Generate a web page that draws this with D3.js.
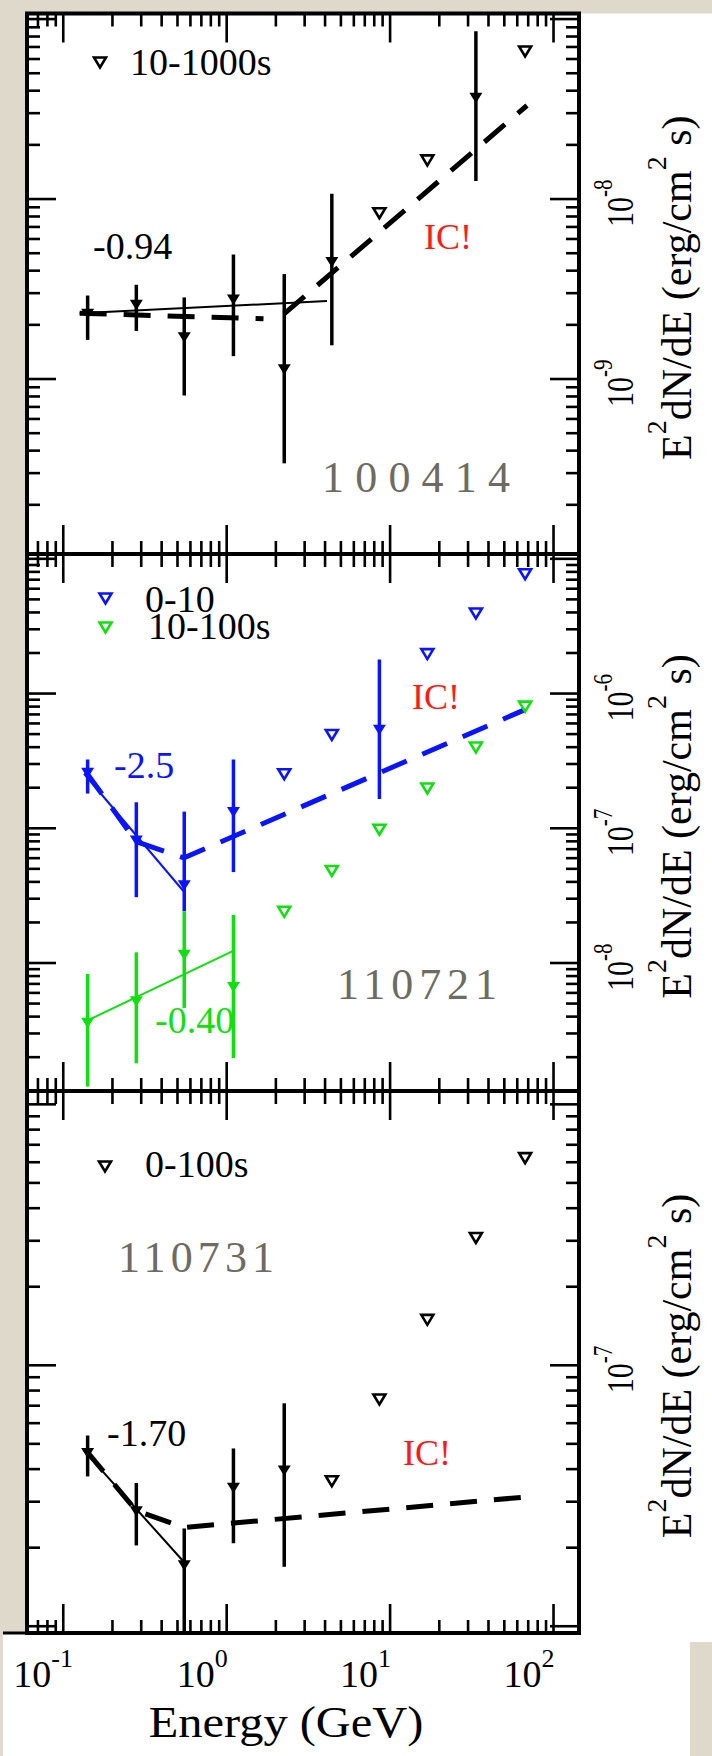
<!DOCTYPE html>
<html><head><meta charset="utf-8">
<script src="https://cdn.jsdelivr.net/npm/d3@7"></script>
<style>html,body{margin:0;padding:0;background:#dfd9cb;}svg{display:block}</style>
</head><body>
<svg id="chart" width="712" height="1756"></svg>
<script>
// ---------------- DATA ----------------
const energyGeV = [0.141, 0.28, 0.55, 1.1, 2.25, 4.4, 8.6, 16.9, 33.5, 67];
const xTickValues = [0.1, 1, 10, 100];
const xTickExponents = ["-1", "0", "1", "2"];
const burstNames = ["100414", "110721", "110731"];
const indexLabels = ["-0.94", "-2.5", "-0.40", "-1.70"];
const legendLabels = ["10-1000s", "0-10", "10-100s", "0-100s"];
const icLabel = "IC!";

// Panel 1 : GRB 100414 (10-1000 s)
const p1YDomain = [1.066e-10, 1.074e-7];
const p1YTicks = [1e-9, 1e-8];
const p1YExp = ["-9", "-8"];
const p1DetIdx = [0, 1, 2, 3, 4, 5, 8];
const p1Flux   = [2.32e-9, 2.60e-9, 1.72e-9, 2.78e-9, 1.14e-9, 4.5e-9, 3.68e-8];
const p1FluxHi = [2.91e-9, 3.34e-9, 2.84e-9, 4.92e-9, 3.83e-9, 1.07e-8, 8.57e-8];
const p1FluxLo = [1.65e-9, 1.85e-9, 8.1e-10, 1.34e-9, 3.4e-10, 1.54e-9, 1.26e-8];
const p1UlIdx = [6, 7, 9];
const p1Ul = [8.4e-9, 1.65e-8, 6.65e-8];
const p1FitE = [0.126, 4.11],  p1FitF = [2.32e-9, 2.71e-9];
const p1ModAE = [0.126, 1.68], p1ModAF = [2.32e-9, 2.16e-9];
const p1ModBE = [2.245, 68.8], p1ModBF = [2.30e-9, 3.31e-8];

// Panel 2 : GRB 110721 (0-10 s blue, 10-100 s green)
const p2YDomain = [1.122e-9, 1.086e-5];
const p2YTicks = [1e-8, 1e-7, 1e-6];
const p2YExp = ["-8", "-7", "-6"];
const p2bDetIdx = [0, 1, 2, 3, 6];
const p2bFlux   = [2.61e-7, 8.18e-8, 3.81e-8, 1.33e-7, 5.43e-7];
const p2bFluxHi = [3.24e-7, 1.56e-7, 1.33e-7, 3.24e-7, 1.79e-6];
const p2bFluxLo = [1.81e-7, 3.08e-8, 2.42e-8, 4.73e-8, 1.65e-7];
const p2bUlIdx = [4, 5, 7, 8, 9];
const p2bUl = [2.54e-7, 4.97e-7, 1.98e-6, 3.96e-6, 7.75e-6];
const p2gDetIdx = [0, 1, 2, 3];
const p2gFlux   = [3.64e-9, 5.25e-9, 1.16e-8, 6.70e-9];
const p2gFluxHi = [8.3e-9, 1.20e-8, 2.42e-8, 2.27e-8];
const p2gFluxLo = [1.21e-9, 1.80e-9, 4.64e-9, 1.97e-9];
const p2gUlIdx = [4, 5, 6, 7, 8, 9];
const p2gUl = [2.42e-8, 4.86e-8, 9.84e-8, 1.99e-7, 4.01e-7, 8.07e-7];
const p2bFitE = [0.134, 0.548], p2bFitF = [2.54e-7, 3.38e-8];
const p2bModE = [0.138, 0.28, 0.548, 66.9], p2bModF = [2.61e-7, 7.94e-8, 6.03e-8, 7.60e-7];
const p2gFitE = [0.134, 1.096], p2gFitF = [3.64e-9, 1.23e-8];

// Panel 3 : GRB 110731 (0-100 s)
const p3YDomain = [9.42e-9, 1.125e-6];
const p3YTicks = [1e-7];
const p3YExp = ["-7"];
const p3DetIdx = [0, 1, 2, 3, 4];
const p3Flux   = [4.63e-8, 2.77e-8, 1.72e-8, 3.41e-8, 3.97e-8];
const p3FluxHi = [5.38e-8, 3.54e-8, 2.37e-8, 4.8e-8, 7.15e-8];
const p3FluxLo = [3.75e-8, 2.04e-8, 9.4e-9, 2.08e-8, 1.69e-8];
const p3UlIdx = [5, 6, 7, 8, 9];
const p3Ul = [3.61e-8, 7.43e-8, 1.50e-7, 3.09e-7, 6.25e-7];
const p3FitE = [0.134, 0.567], p3FitF = [4.71e-8, 1.72e-8];
const p3ModE = [0.138, 0.28, 0.548, 68.2], p3ModF = [4.71e-8, 2.77e-8, 2.39e-8, 3.13e-8];

// ---------------- LAYOUT ----------------
const BLACK = "#000", BLUE = "#0a14ff", GREEN = "#10e010", RED = "#ff1a1a", GREY = "#6d6b62";
const FONT = "'Liberation Serif','Times New Roman',serif";
const X0 = 27, X1 = 579;
const xDomain = [0.0600, 143.2];

const panels = [
  {top: 13.5, bottom: 554, yDomain: p1YDomain, yTicks: p1YTicks, yExp: p1YExp,
   series: [{c: BLACK, det: p1DetIdx, f: p1Flux, hi: p1FluxHi, lo: p1FluxLo, ul: p1UlIdx, ulv: p1Ul}],
   lines: [{c: BLACK, E: p1FitE, F: p1FitF, dash: false},
           {c: BLACK, E: p1ModAE, F: p1ModAF, dash: true},
           {c: BLACK, E: p1ModBE, F: p1ModBF, dash: true}]},
  {top: 554, bottom: 1091, yDomain: p2YDomain, yTicks: p2YTicks, yExp: p2YExp,
   series: [{c: BLUE, det: p2bDetIdx, f: p2bFlux, hi: p2bFluxHi, lo: p2bFluxLo, ul: p2bUlIdx, ulv: p2bUl},
            {c: GREEN, det: p2gDetIdx, f: p2gFlux, hi: p2gFluxHi, lo: p2gFluxLo, ul: p2gUlIdx, ulv: p2gUl}],
   lines: [{c: BLUE, E: p2bFitE, F: p2bFitF, dash: false},
           {c: BLUE, E: p2bModE, F: p2bModF, dash: true},
           {c: GREEN, E: p2gFitE, F: p2gFitF, dash: false}]},
  {top: 1091, bottom: 1633, yDomain: p3YDomain, yTicks: p3YTicks, yExp: p3YExp,
   series: [{c: BLACK, det: p3DetIdx, f: p3Flux, hi: p3FluxHi, lo: p3FluxLo, ul: p3UlIdx, ulv: p3Ul}],
   lines: [{c: BLACK, E: p3FitE, F: p3FitF, dash: false},
           {c: BLACK, E: p3ModE, F: p3ModF, dash: true}]}
];

const svg = d3.select("#chart");
const defs = svg.append("defs");

// background
svg.append("rect").attr("x", 0).attr("y", 0).attr("width", 712).attr("height", 1756).attr("fill", "#dfd9cb");
svg.append("rect").attr("x", X0).attr("y", 13.5).attr("width", 712 - X0).attr("height", 1642 - 13.5).attr("fill", "#fff");
svg.append("rect").attr("x", 3).attr("y", 1633).attr("width", 687).attr("height", 1756 - 1633).attr("fill", "#fff");

const x = d3.scaleLog().domain(xDomain).range([X0, X1]);

function minorTicks(dom) {
  const out = [];
  const d0 = Math.floor(Math.log10(dom[0])), d1 = Math.ceil(Math.log10(dom[1]));
  for (let d = d0; d <= d1; d++) for (let k = 1; k <= 9; k++) {
    const v = k * Math.pow(10, d);
    if (v >= dom[0] && v <= dom[1]) out.push({v, major: k === 1});
  }
  return out;
}
const tri = "M-6.5,-4.5L6.5,-4.5L0,6Z";
const triOpen = "M-6,-4.5L6,-4.5L0,5.5Z";

panels.forEach((p, i) => {
  const y = d3.scaleLog().domain(p.yDomain).range([p.bottom, p.top]);
  const g = svg.append("g");
  const cid = "clip" + i;
  defs.append("clipPath").attr("id", cid).append("rect")
    .attr("x", X0).attr("y", p.top).attr("width", X1 - X0).attr("height", p.bottom - p.top);
  const pg = g.append("g").attr("clip-path", `url(#${cid})`);

  // ticks
  const tk = g.append("g").attr("stroke", BLACK).attr("stroke-width", 2.6);
  minorTicks(p.yDomain).forEach(t => {
    const L = t.major ? 29 : 13, yy = y(t.v);
    tk.append("line").attr("x1", X0).attr("x2", X0 + L).attr("y1", yy).attr("y2", yy);
    tk.append("line").attr("x1", X1).attr("x2", X1 - L).attr("y1", yy).attr("y2", yy);
  });
  minorTicks(xDomain).forEach(t => {
    const L = t.major ? 29 : 13, xx = x(t.v);
    tk.append("line").attr("x1", xx).attr("x2", xx).attr("y1", p.top).attr("y2", p.top + L);
    tk.append("line").attr("x1", xx).attr("x2", xx).attr("y1", p.bottom).attr("y2", p.bottom - L);
  });

  // model / fit lines
  p.lines.forEach(l => {
    const pts = l.E.map((e, j) => [x(e), y(l.F[j])]);
    pg.append("path").attr("d", d3.line()(pts)).attr("fill", "none")
      .attr("stroke", l.c).attr("stroke-width", l.dash ? 5 : 2)
      .attr("stroke-dasharray", l.dash ? "27,17" : null);
  });

  // data
  p.series.forEach(s => {
    s.det.forEach((idx, j) => {
      const xx = x(energyGeV[idx]);
      pg.append("line").attr("x1", xx).attr("x2", xx).attr("y1", y(s.hi[j])).attr("y2", y(s.lo[j]))
        .attr("stroke", s.c).attr("stroke-width", 3.5);
      pg.append("path").attr("d", tri).attr("transform", `translate(${xx},${y(s.f[j])})`).attr("fill", s.c);
    });
    s.ul.forEach((idx, j) => {
      pg.append("path").attr("d", triOpen)
        .attr("transform", `translate(${x(energyGeV[idx])},${y(s.ulv[j])})`)
        .attr("fill", "#fff").attr("stroke", s.c).attr("stroke-width", 2.6);
    });
  });

  // frame
  g.append("rect").attr("x", X0).attr("y", p.top).attr("width", X1 - X0).attr("height", p.bottom - p.top)
    .attr("fill", "none").attr("stroke", BLACK).attr("stroke-width", 4);

  // right tick labels
  p.yTicks.forEach((v, j) => {
    const t = svg.append("g").attr("transform", `translate(633,${y(v) + 28}) scale(1.25,1) rotate(-90)`)
      .append("text").attr("font-family", FONT).attr("font-size", 30).attr("fill", BLACK);
    t.append("tspan").text("10");
    t.append("tspan").attr("font-size", 21).attr("dy", -17).text(p.yExp[j]);
  });

  // right axis title
  const mid = (p.top + p.bottom) / 2 + 4;
  const tt = svg.append("g").attr("transform", `translate(691,${mid}) rotate(-90)`)
    .append("text").attr("font-family", FONT).attr("font-size", 42).attr("fill", BLACK).attr("text-anchor", "middle");
  tt.append("tspan").text("E");
  tt.append("tspan").attr("font-size", 28).attr("dy", -25).text("2");
  tt.append("tspan").attr("dy", 25).text("dN/dE (erg/cm");
  tt.append("tspan").attr("font-size", 28).attr("dy", -25).text("2");
  tt.append("tspan").attr("dy", 25).text(" s)");
});

// bottom axis line extension & labels
svg.append("line").attr("x1", 3).attr("x2", X1).attr("y1", 1633).attr("y2", 1633).attr("stroke", BLACK).attr("stroke-width", 3);
xTickValues.forEach((v, j) => {
  const t = svg.append("text").attr("x", x(v) - 50).attr("y", 1687)
    .attr("font-family", FONT).attr("font-size", 38).attr("fill", BLACK);
  t.append("tspan").text("10");
  t.append("tspan").attr("font-size", 26).attr("dy", -20).text(xTickExponents[j]);
});
svg.append("text").attr("transform", "translate(286,1737) scale(1.1,1)").attr("text-anchor", "middle")
  .attr("font-family", FONT).attr("font-size", 44).attr("fill", BLACK).text("Energy (GeV)");

// annotations
function label(str, px, py, color, size, anchor) {
  svg.append("text").attr("x", px).attr("y", py)
    .attr("text-anchor", anchor || "start").attr("dominant-baseline", "central")
    .attr("font-family", FONT).attr("font-size", size).attr("fill", color).text(str);
}
// legends
const legendMarks = [[100, 62, BLACK], [105.5, 598, BLUE], [105.5, 627, GREEN], [105, 1166, BLACK]];
const legendText = [[130, 61.5], [145, 599], [148, 625.5], [145, 1164]];
legendLabels.forEach((s, j) => {
  svg.append("path").attr("d", triOpen).attr("transform", `translate(${legendMarks[j][0]},${legendMarks[j][1]})`)
    .attr("fill", "#fff").attr("stroke", legendMarks[j][2]).attr("stroke-width", 2.6);
  label(s, legendText[j][0], legendText[j][1], BLACK, 38);
});
// spectral indices
const idxPos = [[93, 246, BLACK], [114, 765, BLUE], [155, 1020, GREEN], [107, 1433, BLACK]];
indexLabels.forEach((s, j) => label(s, idxPos[j][0], idxPos[j][1], idxPos[j][2], 38));
// IC!
[[448, 237], [436, 697], [427, 1453]].forEach(pp => label(icLabel, pp[0], pp[1], RED, 36, "middle"));
// burst names
const namePos = [[416, 492, 188], [417, 999, 160], [196, 1272, 156]];
burstNames.forEach((s, j) => {
  svg.append("text").attr("x", namePos[j][0] - namePos[j][2] / 2).attr("y", namePos[j][1])
    .attr("textLength", namePos[j][2]).attr("lengthAdjust", "spacing")
    .attr("font-family", FONT).attr("font-size", 44)
    .attr("fill", GREY).text(s);
});
</script>
</body></html>
